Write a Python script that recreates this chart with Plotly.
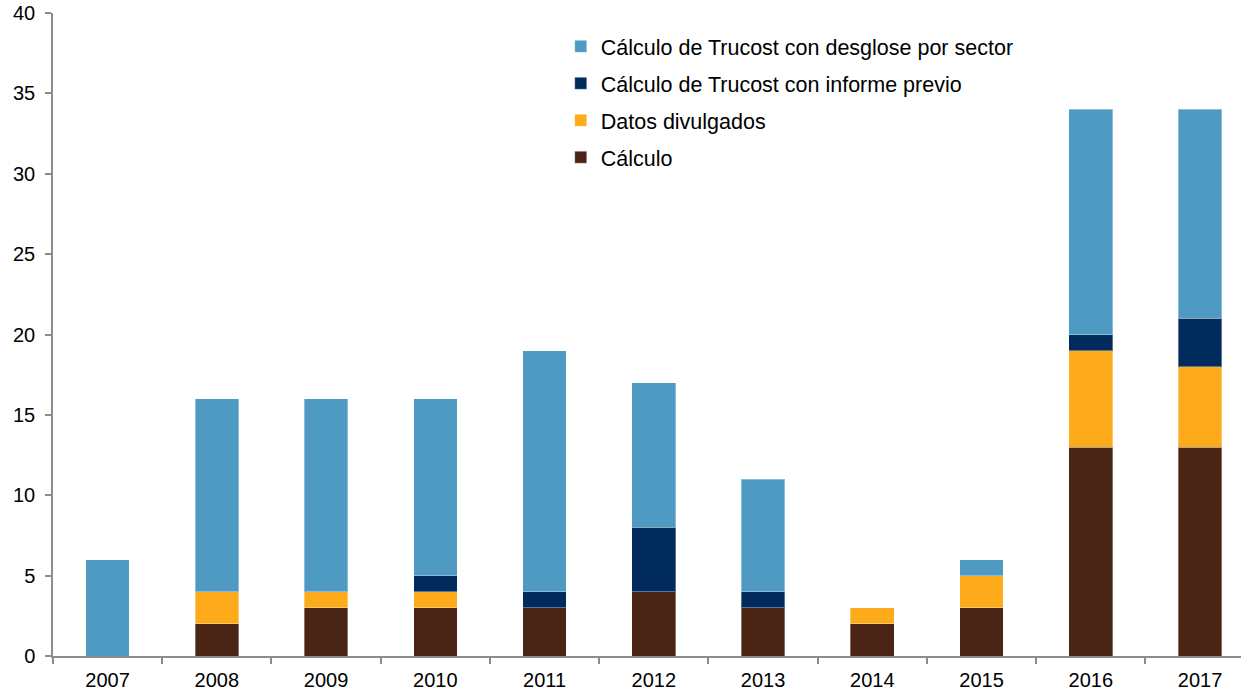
import plotly.graph_objects as go

years = ["2007", "2008", "2009", "2010", "2011", "2012", "2013", "2014", "2015", "2016", "2017"]
calculo = [0, 2, 3, 3, 3, 4, 3, 2, 3, 13, 13]
datos_divulgados = [0, 2, 1, 1, 0, 0, 0, 1, 2, 6, 5]
informe_previo = [0, 0, 0, 1, 1, 4, 1, 0, 0, 1, 3]
desglose_sector = [6, 12, 12, 11, 15, 9, 7, 0, 1, 14, 13]

series = [
    ("Cálculo", calculo, "#4A2515"),
    ("Datos divulgados", datos_divulgados, "#FDAB1A"),
    ("Cálculo de Trucost con informe previo", informe_previo, "#002B5C"),
    ("Cálculo de Trucost con desglose por sector", desglose_sector, "#4F9AC2"),
]

fig = go.Figure()
for i, (name, vals, col) in enumerate(series):
    fig.add_trace(go.Bar(
        x=years, y=vals, name=name, legendgroup=f"g{i}",
        legendrank=1000 - i,
        marker=dict(color=col, line=dict(color="rgba(255,255,255,0.35)", width=1)),
        width=0.4,
    ))

fig.update_layout(
    barmode="stack",
    width=1241, height=692,
    margin=dict(l=53, r=0, t=13, b=36),
    paper_bgcolor="white", plot_bgcolor="white",
    font=dict(family="Liberation Sans, Arial, sans-serif", size=20, color="#000000"),
    showlegend=True,
    legend=dict(
        x=0.4274, y=0.98, xanchor="left", yanchor="top",
        traceorder="grouped", tracegroupgap=6,
        font=dict(size=21.5), bgcolor="rgba(0,0,0,0)",
        itemwidth=30,
    ),
)
fig.update_xaxes(
    type="category", range=[-0.5, 10.375], autorange=False, automargin=False,
    showline=True, linecolor="#8C8C8C", linewidth=1.5,
    ticks="outside", tickson="boundaries", ticklen=6, tickcolor="#8C8C8C", tickwidth=1.5,
    tickfont=dict(size=20), showgrid=False, zeroline=False, ticklabelstandoff=5,
    ticklabeloverflow="allow",
)
fig.update_yaxes(
    range=[0, 40], dtick=5, autorange=False, automargin=False,
    showline=True, linecolor="#8C8C8C", linewidth=1.5,
    ticks="outside", ticklen=6, tickcolor="#8C8C8C", tickwidth=1.5,
    tickfont=dict(size=20), showgrid=False, zeroline=False, ticklabelstandoff=6,
    ticklabeloverflow="allow",
)

fig.write_html(
    "out.html",
    config={"displayModeBar": False},
    post_script="document.body.style.margin='0px'; document.body.style.overflow='hidden';",
)
